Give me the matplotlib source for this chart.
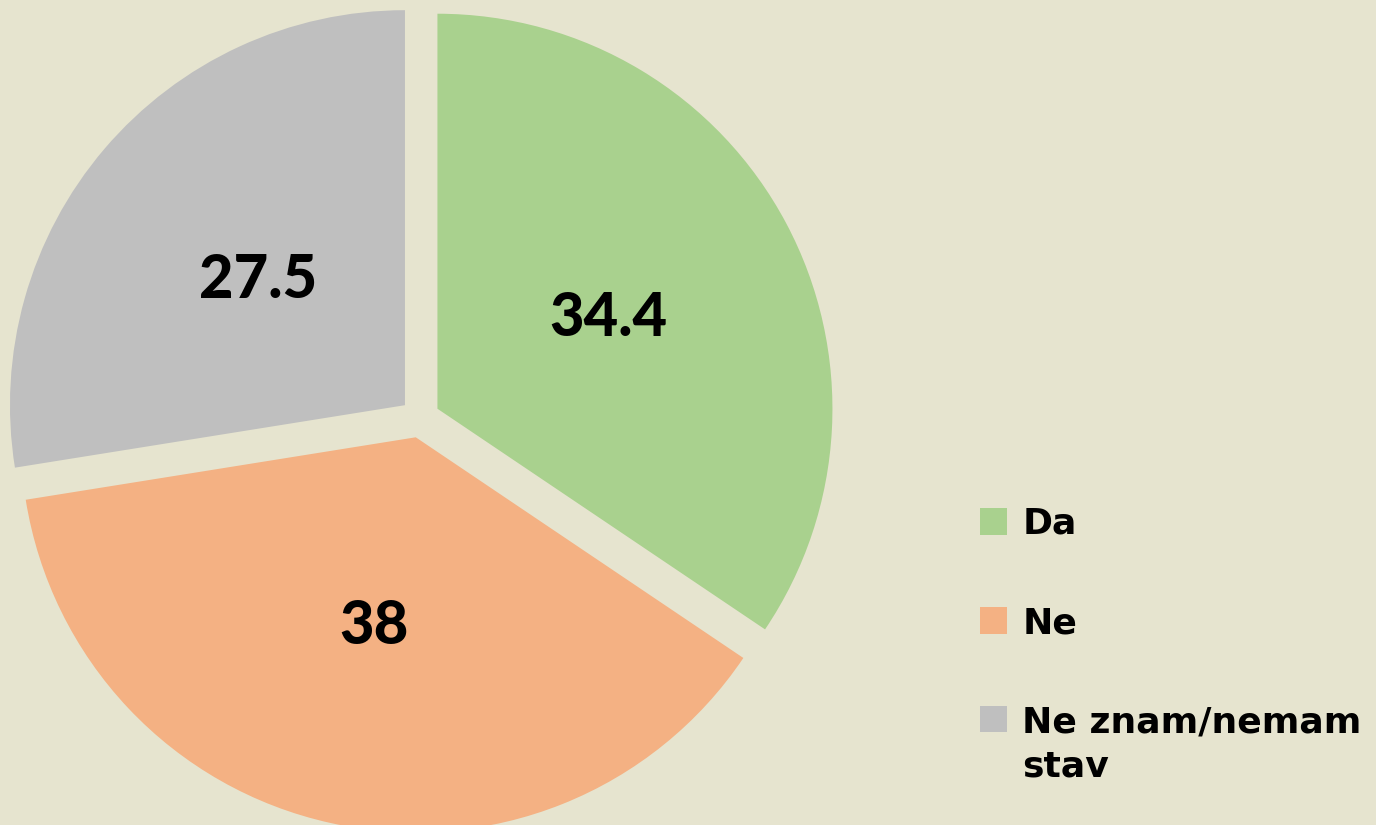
import matplotlib.pyplot as plt
from matplotlib.font_manager import FontProperties

categorias = ['Da', 'Ne', 'Ne znam/nemam\nstav']
valores = [34.4, 38, 27.5]
etiquetas = ['34.4', '38', '27.5']
colores = ['#A9D18E', '#F4B183', '#BFBFBF']
fondo = '#E6E4CF'

fig = plt.figure(figsize=(13.76, 8.25), dpi=100, facecolor=fondo)
ax = fig.add_axes([0, 0, 1, 1])
ax.set_facecolor(fondo)

cuñas, textos = ax.pie(valores, labels=etiquetas, colors=colores, startangle=90,
                       counterclock=False, explode=[0.05, 0.05, 0.05],
                       labeldistance=0.49, radius=1.0,
                       textprops=dict(fontsize=43, fontweight='black', family='Lato',
                                      color='black'))
for t in textos:
    t.set_ha('center')
    t.set_va('center')

# escala: radio 1 = 395 px, centro en (420, 418) px
r = 395
cx, cy = 420, 418
ax.set_aspect('auto')
ax.set_xlim(-cx / r, (1376 - cx) / r)
ax.set_ylim(-(825 - cy) / r, cy / r)
ax.axis('off')

leg = ax.legend(cuñas, categorias, loc='upper left', bbox_to_anchor=(980 / 1376, 1 - 507 / 825),
                frameon=False, handlelength=0.75, handleheight=0.75, handletextpad=0.42,
                labelspacing=1.8, borderaxespad=0, borderpad=0,
                prop=FontProperties(family='DejaVu Sans', weight='bold', size=26))
for t in leg.get_texts():
    t.set_linespacing(1.4)

# el cuadro gris va con la primera línea del texto
h = leg.legend_handles[2]
h.set_y(h.get_y() + 19)

fig.savefig('out.png', dpi=100, facecolor=fondo)
